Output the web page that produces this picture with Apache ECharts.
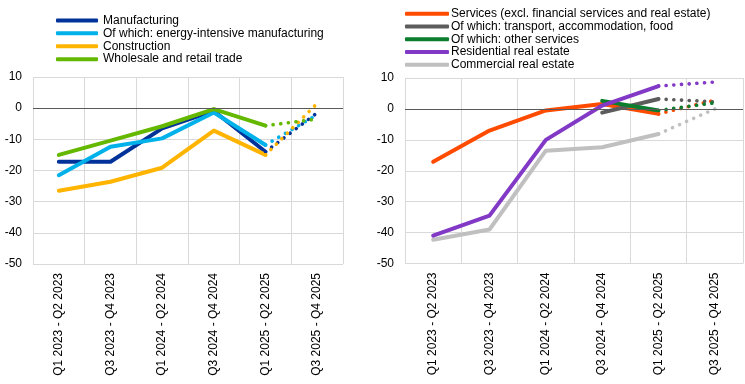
<!DOCTYPE html>
<html>
<head>
<meta charset="utf-8">
<script src="https://cdn.jsdelivr.net/npm/echarts@6/dist/echarts.min.js"></script>
<style>
html,body{margin:0;padding:0;background:#fff;}
#c{width:745px;height:384px;}
</style>
</head>
<body>
<div id="c"></div>
<script>
// Categories
var categories = ["Q1 2023 - Q2 2023","Q3 2023 - Q4 2023","Q1 2024 - Q2 2024","Q3 2024 - Q4 2024","Q1 2025 - Q2 2025","Q3 2025 - Q4 2025"];
var yTicks = [-50, -40, -30, -20, -10, 0, 10];

// Left panel: realised (solid) and expected (dotted)
var manufacturing        = [-17.2, -17.2, -6.5, -0.9, -14.0, null];
var manufacturingOut     = [null, null, null, null, -14.0, -1.5];
var energyIntensive      = [-21.5, -12.4, -9.7, -1.4, -11.8, null];
var energyIntensiveOut   = [null, null, null, null, -11.8, -2.1];
var construction         = [-26.5, -23.6, -19.1, -7.2, -15.0, null];
var constructionOut      = [null, null, null, null, -15.0, 1.5];
var wholesale            = [-15.0, -10.4, -5.8, -0.3, -5.6, null];
var wholesaleOut         = [null, null, null, null, -5.6, -3.5];

// Right panel
var services             = [-17.1, -7.0, -0.5, 1.6, -1.6, null];
var servicesOut          = [null, null, null, null, -1.6, 2.8];
var transport            = [null, null, null, -1.2, 3.2, null];
var transportOut         = [null, null, null, null, 3.2, 2.3];
var otherServices        = [null, null, null, 2.6, -0.5, null];
var otherServicesOut     = [null, null, null, null, -0.5, 2.0];
var residential          = [-41.0, -34.5, -10.0, 1.1, 7.4, null];
var residentialOut       = [null, null, null, null, 7.4, 8.7];
var commercial           = [-42.3, -39.0, -13.5, -12.4, -8.1, null];
var commercialOut        = [null, null, null, null, -8.1, 0.0];

var leftNames = ["Manufacturing","Of which: energy-intensive manufacturing","Construction","Wholesale and retail trade"];
var rightNames = ["Services (excl. financial services and real estate)","Of which: transport, accommodation, food","Of which: other services","Residential real estate","Commercial real estate"];

var FONT = "Liberation Sans, Arial, sans-serif";

function solid(name, data, color, idx) {
  return {
    name: name, type: 'line', data: data, xAxisIndex: idx, yAxisIndex: idx,
    symbol: 'none', connectNulls: false, color: color,
    lineStyle: { color: color, width: 4, cap: 'round', join: 'round' },
    itemStyle: { color: color },
    z: 3
  };
}
function dotted(name, data, color, idx) {
  return {
    name: name + ' (expected)', type: 'line', data: data, xAxisIndex: idx, yAxisIndex: idx,
    symbol: 'none', color: color,
    lineStyle: { color: color, width: 3.6, type: [0.1, 7.6], cap: 'round', dashOffset: -7.6 },
    z: 3
  };
}
function xAxisCfg(idx) {
  return {
    type: 'category', gridIndex: idx, data: categories, boundaryGap: true,
    axisLine: { show: false }, axisTick: { show: false },
    splitLine: { show: true, interval: 0, lineStyle: { color: '#D9D9D9', width: 1 } },
    axisLabel: { interval: 0, rotate: 90, fontSize: 12, color: '#000', fontFamily: FONT, margin: 9 }
  };
}
function yAxisCfg(idx) {
  return {
    type: 'value', gridIndex: idx, min: yTicks[0], max: yTicks[yTicks.length - 1], interval: 10,
    axisLine: { show: false }, axisTick: { show: false },
    splitLine: { show: true, lineStyle: { color: '#D9D9D9', width: 1 } },
    axisLabel: { fontSize: 12, color: '#000', fontFamily: FONT, margin: 11 }
  };
}
function zeroLine(idx) {
  return {
    name: 'zero' + idx, type: 'line', data: [], xAxisIndex: idx, yAxisIndex: idx, z: 2,
    markLine: { silent: true, symbol: 'none', label: { show: false },
      lineStyle: { color: '#595959', width: 1, type: 'solid' },
      data: [{ yAxis: 0 }] }
  };
}

var leftColors = ['#003299', '#00B1EA', '#FFB400', '#65B800'];
var rightColors = ['#FF4B00', '#5C5C5C', '#0A7D2E', '#8139C6', '#C0C0C0'];

var option = {
  animation: false,
  backgroundColor: '#fff',
  textStyle: { fontFamily: FONT },
  grid: [
    { left: 33, top: 77, width: 310, height: 187 },
    { left: 405, top: 78, width: 338, height: 185.5 }
  ],
  xAxis: [xAxisCfg(0), xAxisCfg(1)],
  yAxis: [yAxisCfg(0), yAxisCfg(1)],
  legend: [
    { data: leftNames, orient: 'vertical', left: 56, top: 14, itemGap: 0, itemWidth: 42, itemHeight: 4,
      icon: 'roundRect', padding: 0,
      textStyle: { fontSize: 12, color: '#000', fontFamily: FONT, lineHeight: 12.9, padding: [0, 0, 0, 0] } },
    { data: rightNames, orient: 'vertical', left: 405, top: 7.5, itemGap: 0, itemWidth: 44, itemHeight: 4,
      icon: 'roundRect', padding: 0,
      textStyle: { fontSize: 12, color: '#000', fontFamily: FONT, lineHeight: 12.7, padding: [0, 0, 0, -3] } }
  ],
  series: [
    zeroLine(0), zeroLine(1),
    solid(leftNames[0], manufacturing, leftColors[0], 0),
    solid(leftNames[1], energyIntensive, leftColors[1], 0),
    solid(leftNames[2], construction, leftColors[2], 0),
    solid(leftNames[3], wholesale, leftColors[3], 0),
    dotted(leftNames[0], manufacturingOut, leftColors[0], 0),
    dotted(leftNames[1], energyIntensiveOut, leftColors[1], 0),
    dotted(leftNames[2], constructionOut, leftColors[2], 0),
    dotted(leftNames[3], wholesaleOut, leftColors[3], 0),
    solid(rightNames[4], commercial, rightColors[4], 1),
    solid(rightNames[0], services, rightColors[0], 1),
    solid(rightNames[1], transport, rightColors[1], 1),
    solid(rightNames[2], otherServices, rightColors[2], 1),
    solid(rightNames[3], residential, rightColors[3], 1),
    dotted(rightNames[0], servicesOut, rightColors[0], 1),
    dotted(rightNames[1], transportOut, rightColors[1], 1),
    dotted(rightNames[2], otherServicesOut, rightColors[2], 1),
    dotted(rightNames[3], residentialOut, rightColors[3], 1),
    dotted(rightNames[4], commercialOut, rightColors[4], 1)
  ]
};

var chart = echarts.init(document.getElementById('c'), null, { renderer: 'canvas' });
chart.setOption(option);
</script>
</body>
</html>
